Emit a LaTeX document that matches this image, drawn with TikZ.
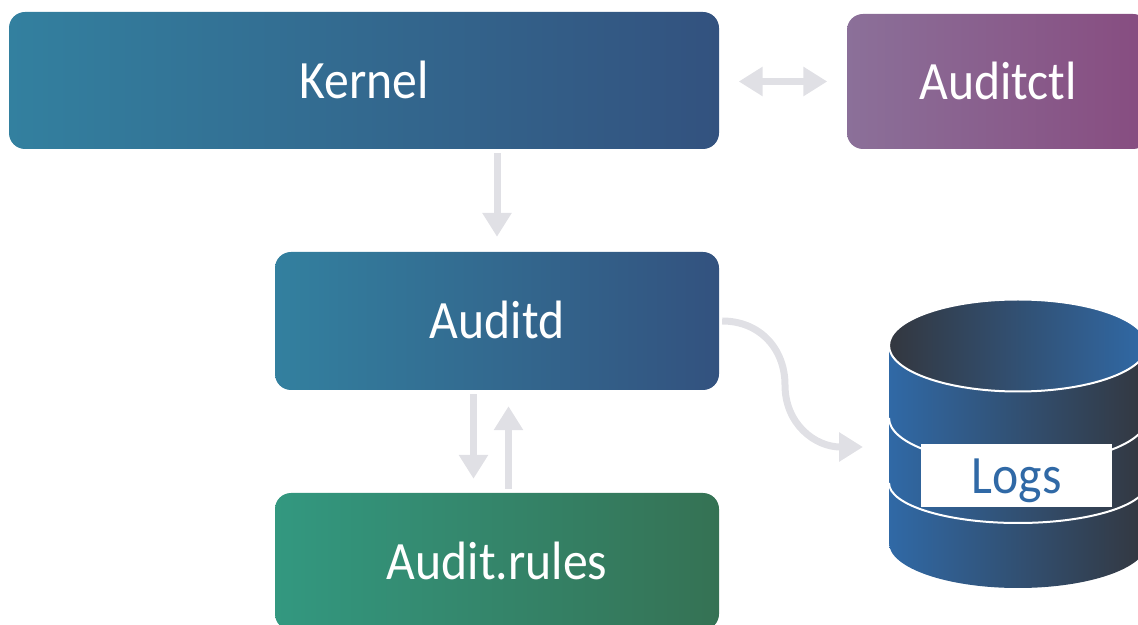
\documentclass[tikz,border=0pt]{standalone}
\usepackage{fontspec}
\setmainfont[FakeStretch=0.92]{Carlito}
\usetikzlibrary{arrows.meta}
\definecolor{flow}{HTML}{E0E0E5}
\definecolor{logblue}{HTML}{3069A6}
\definecolor{logdark}{HTML}{33373F}
\tikzset{
  x=1pt,y=1pt,
  labeltext/.style={text height=36pt,text depth=0pt,font=\fontsize{54}{60}\selectfont},
  box/.style={labeltext,rounded corners=16pt,minimum height=137pt,inner sep=0pt,text=white},
  bluebox/.style={box,left color=blue1,right color=blue2},
  link/.style={draw=flow,line width=7pt,-{Triangle[length=24pt,width=28pt]}},
  duallink/.style={draw=flow,line width=7pt,{Triangle[length=24pt,width=28pt]}-{Triangle[length=24pt,width=28pt]}},
  sep/.style={draw=white,line width=2pt},
}
\definecolor{blue1}{HTML}{33809F}
\definecolor{blue2}{HTML}{33527F}
\begin{document}
\begin{tikzpicture}
\useasboundingbox (0,0) rectangle (1138,624);
\clip (0,0) rectangle (1138,624);
\node[bluebox,minimum width=710pt] (kernel) at (364,543.5) {Kernel};
\node[box,minimum width=302pt,minimum height=135pt,left color={rgb,255:red,139;green,112;blue,153},right color={rgb,255:red,135;green,76;blue,128}] (auditctl) at (998,542.5) {Auditctl};
\node[bluebox,minimum width=444pt,minimum height=138pt] (auditd) at (497,303) {Auditd};
\node[box,minimum width=444pt,left color={rgb,255:red,51;green,152;blue,128},right color={rgb,255:red,53;green,114;blue,84}] (rules) at (497,62.5) {Audit.rules};
% arrows
\draw[duallink,shorten <=19.5pt,shorten >=19.5pt] (kernel.east |- auditctl.west) -- (auditctl.west);
\draw[link,shorten <=4pt,shorten >=15pt] (kernel.south -| auditd.north) -- (auditd.north);
\draw[link,shorten <=4pt,shorten >=14pt] ([xshift=-23.5pt]auditd.south) -- ([xshift=-23.5pt]rules.north);
\draw[link,shorten <=4pt,shorten >=16pt] ([xshift=11.5pt]rules.north) -- ([xshift=11.5pt]auditd.south);
% database
\path[left color=logblue,right color=logdark] (889,279) -- (889,81) arc[start angle=180,end angle=360,x radius=129,y radius=45] -- (1147,279) -- cycle;
\draw[sep] (889,206) arc[start angle=180,end angle=360,x radius=129,y radius=46];
\draw[sep] (889,141) arc[start angle=180,end angle=360,x radius=129,y radius=40];
\draw[draw=white,line width=2pt,left color=logdark,right color=logblue] (1018,278.5) ellipse[x radius=129,y radius=46];
\node[labeltext,fill=white,minimum width=191pt,minimum height=63pt,inner sep=0pt,text=logblue] (logs) at (1016.5,148.5) {Logs};
\coordinate (dbin) at (863,177);
\draw[link,shorten <=3pt] (auditd.east) .. controls (760,303) and (785,275) .. (785,239) .. controls (785,200) and (815,177) .. (dbin);
\end{tikzpicture}
\end{document}
